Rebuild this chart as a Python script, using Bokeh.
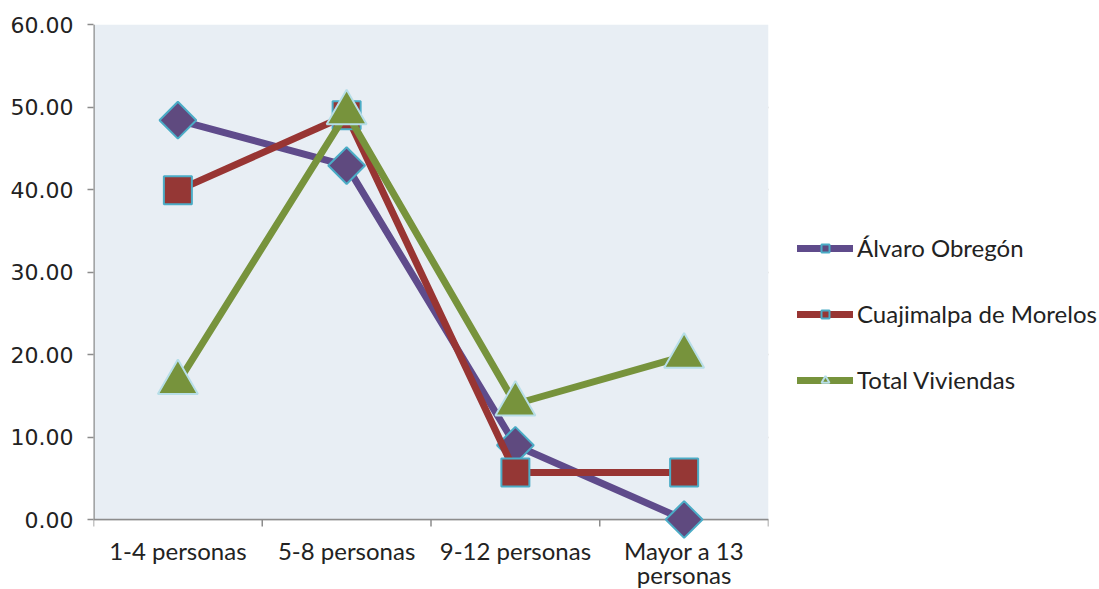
from bokeh.plotting import figure
from bokeh.models import (FixedTicker, NumeralTickFormatter, Legend, LegendItem,
                          Range1d, ColumnDataSource, BoxAnnotation)
from bokeh.core.properties import value
from bokeh.embed import file_html
from bokeh.resources import INLINE
import math

# Share of households by number of occupants (%)
categories = ["1-4 personas", "5-8 personas", "9-12 personas", "Mayor a 13\npersonas"]
alvaro_obregon = [48.4, 42.9, 9.0, 0.0]
cuajimalpa = [39.9, 49.0, 5.7, 5.7]
total_viviendas = [16.6, 49.3, 14.0, 19.8]
series_names = ["Álvaro Obregón", "Cuajimalpa de Morelos", "Total Viviendas"]
y_ticks = [0, 10, 20, 30, 40, 50, 60]

n = len(categories)
xs = list(range(1, n + 1))
source = ColumnDataSource(dict(x=xs, ao=alvaro_obregon, cm=cuajimalpa, tv=total_viviendas,
                               cat=categories))

# The frame runs down to the bottom edge so that the category labels and the
# markers sitting on the zero line are drawn without being clipped.
plot_h = 495          # pixels between 0 and 60
below_h = 70          # pixels kept under the zero line for the category labels
y_max = max(y_ticks)
y_min = -y_max * below_h / plot_h

p = figure(frame_width=675, frame_height=plot_h + below_h, output_backend="svg",
           toolbar_location=None, x_axis_location=None,
           x_range=Range1d(0.5, n + 0.5), y_range=Range1d(y_min, y_max),
           min_border_left=93, min_border_right=0, min_border_top=24, min_border_bottom=0)
p.background_fill_color = "white"
p.border_fill_color = "white"
p.outline_line_color = None

# plot area: light blue-grey with grey horizontal rules
p.xgrid.visible = False
p.ygrid.ticker = FixedTicker(ticks=y_ticks)
p.ygrid.grid_line_color = "#a3a3a3"
p.ygrid.grid_line_width = 1.5
p.add_layout(BoxAnnotation(left=0.5, right=n + 0.5, bottom=0, top=y_max,
                           fill_color="#e8eef4", fill_alpha=1, line_color=None, level="underlay"))

# y axis (its line is drawn only over the 0-60 span)
p.yaxis.ticker = FixedTicker(ticks=y_ticks)
p.yaxis.formatter = NumeralTickFormatter(format="0.00")
p.yaxis.axis_line_color = None
p.yaxis.major_tick_line_color = "#8c8c8c"
p.yaxis.major_tick_line_width = 1.5
p.yaxis.major_tick_out = 6
p.yaxis.major_tick_in = 0
p.yaxis.minor_tick_line_color = None
p.yaxis.major_label_text_font = "DejaVu Sans"
p.yaxis.major_label_text_font_size = "22px"
p.yaxis.major_label_text_color = "#222222"
p.yaxis.major_label_standoff = 14
p.segment(x0=0.5, y0=0, x1=0.5, y1=y_max, line_color="#8c8c8c", line_width=2.5)

# category axis: base line, boundary ticks and labels
p.segment(x0=0.5, y0=0, x1=n + 0.5, y1=0, line_color="#8c8c8c", line_width=1.5)
bounds = [i + 0.5 for i in range(n + 1)]
p.ray(x=bounds, y=[0] * len(bounds), length=7, length_units="screen", angle=-math.pi / 2,
      line_color="#8c8c8c", line_width=1.5)
p.text(x="x", y=0, text="cat", source=source, y_offset=16,
       text_align="center", text_baseline="top", text_line_height=0.85,
       text_font=value("Lato"), text_font_size="24px", text_color="#222222")

lw = 7
ao_line = p.line("x", "ao", source=source, line_color="#5f4b8b", line_width=lw,
                 line_join="round", line_cap="round")
ao_pts = p.scatter("x", "ao", source=source, marker="square", angle=math.pi / 4, size=26,
                   fill_color="#5f4a7f", line_color="#4bacc6", line_width=2)
cm_line = p.line("x", "cm", source=source, line_color="#983533", line_width=lw,
                 line_join="round", line_cap="round")
cm_pts = p.scatter("x", "cm", source=source, marker="square", size=28,
                   fill_color="#953735", line_color="#4bacc6", line_width=2)
tv_line = p.line("x", "tv", source=source, line_color="#77933c", line_width=lw,
                 line_join="round", line_cap="round")
tv_pts = p.scatter("x", "tv", source=source, marker="triangle", size=40,
                   fill_color="#77933c", line_color="#b7dee8", line_width=2)

legend = Legend(items=[
    LegendItem(label=series_names[0], renderers=[ao_line, ao_pts]),
    LegendItem(label=series_names[1], renderers=[cm_line, cm_pts]),
    LegendItem(label=series_names[2], renderers=[tv_line, tv_pts]),
], location=(29, 125 + below_h))
legend.glyph_width = 56
legend.glyph_height = 20
legend.spacing = 37
legend.padding = 0
legend.margin = 0
legend.label_standoff = 4
legend.label_text_font = "Lato"
legend.label_text_font_size = "24px"
legend.label_text_color = "#222222"
legend.border_line_color = None
legend.background_fill_alpha = 0
p.add_layout(legend, "right")

open("out.html", "w").write(file_html(p, INLINE))
